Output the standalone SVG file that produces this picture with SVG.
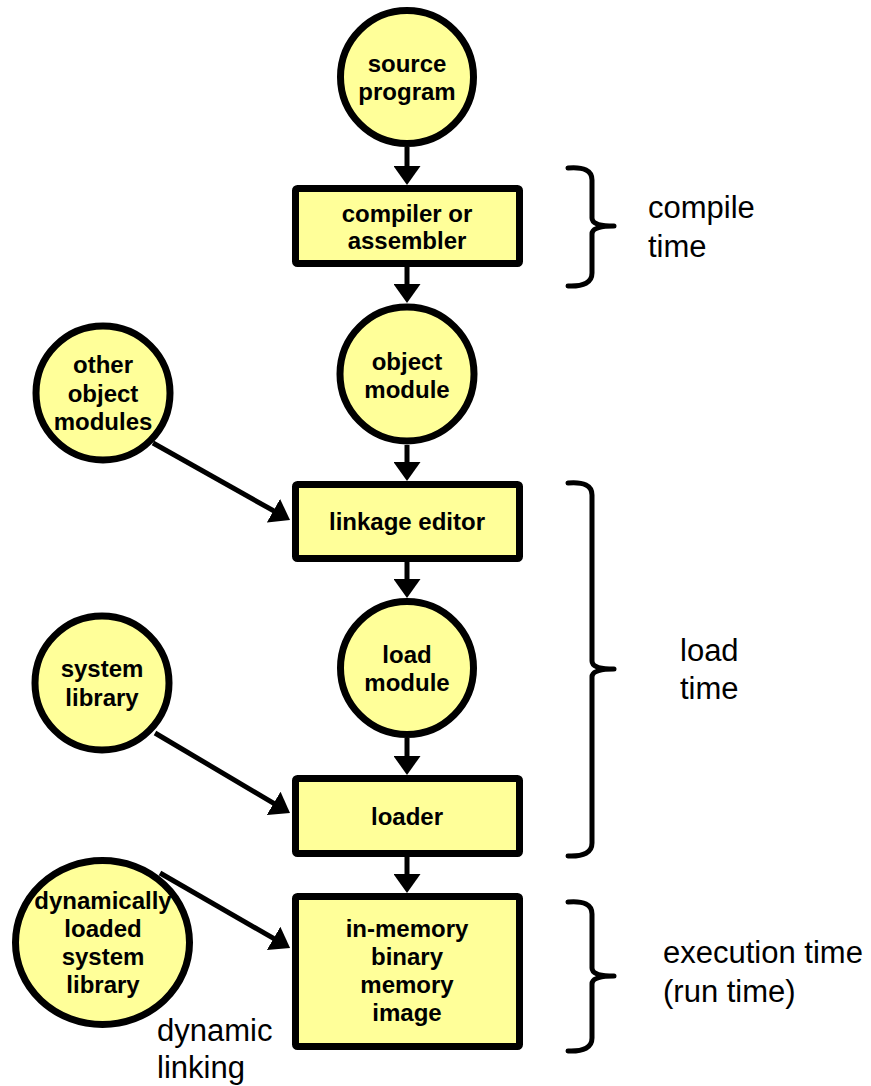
<svg xmlns="http://www.w3.org/2000/svg" width="871" height="1086" viewBox="0 0 871 1086">
<style>
.n{fill:#FFFF99;stroke:#000;stroke-width:7}
.t{font-family:"Liberation Sans",Arial,sans-serif;font-weight:bold;font-size:24px;text-anchor:middle;fill:#000}
.a{font-family:"Liberation Sans",Arial,sans-serif;font-size:31px;fill:#000}
.c{stroke:#000;stroke-width:5;fill:none;marker-end:url(#ah)}
.b{stroke:#000;stroke-width:5;fill:none;stroke-linecap:round;stroke-linejoin:round}
</style>
<defs>
<marker id="ah" viewBox="0 0 19 27" refX="9" refY="13.5" markerWidth="19" markerHeight="27" markerUnits="userSpaceOnUse" orient="auto">
<path d="M0,0 L19,13.5 L0,27 Z" fill="#000"/>
</marker>
</defs>
<g id="connectors">
<line class="c" x1="407" y1="147" x2="407" y2="175"/>
<line class="c" x1="407" y1="267" x2="407" y2="293"/>
<line class="c" x1="407" y1="445" x2="407" y2="471"/>
<line class="c" x1="407" y1="562" x2="407" y2="588"/>
<line class="c" x1="407" y1="738" x2="407" y2="765"/>
<line class="c" x1="407" y1="857" x2="407" y2="883"/>
<line class="c" x1="153" y1="443" x2="281.3" y2="515.1"/>
<line class="c" x1="155" y1="733" x2="281.4" y2="807.9"/>
</g>
<g id="source"><circle class="n" cx="407" cy="77" r="66.5"/><text class="t" x="407" y="72">source</text><text class="t" x="407" y="100">program</text></g>
<g id="compiler"><rect class="n" x="295.5" y="188.5" width="224" height="75" rx="2"/><text class="t" x="407" y="222">compiler or</text><text class="t" x="407" y="249">assembler</text></g>
<g id="object"><circle class="n" cx="407" cy="374" r="67"/><text class="t" x="407" y="370">object</text><text class="t" x="407" y="398">module</text></g>
<g id="other"><circle class="n" cx="103" cy="393" r="67"/><text class="t" x="103" y="373">other</text><text class="t" x="103" y="402">object</text><text class="t" x="103" y="430">modules</text></g>
<g id="linkage"><rect class="n" x="295.5" y="484.5" width="224" height="74" rx="2"/><text class="t" x="407" y="530">linkage editor</text></g>
<g id="load"><circle class="n" cx="407" cy="668" r="66.5"/><text class="t" x="407" y="663">load</text><text class="t" x="407" y="691">module</text></g>
<g id="system"><circle class="n" cx="102" cy="683" r="67"/><text class="t" x="102" y="677">system</text><text class="t" x="102" y="706">library</text></g>
<g id="loader"><rect class="n" x="295.5" y="778.5" width="224" height="75" rx="2"/><text class="t" x="407" y="825">loader</text></g>
<g id="dynamic"><ellipse class="n" cx="102.5" cy="942.5" rx="87" ry="82"/><text class="t" x="103" y="909">dynamically</text><text class="t" x="103" y="937">loaded</text><text class="t" x="103" y="965">system</text><text class="t" x="103" y="993">library</text></g>
<g id="connectors2">
<line class="c" x1="160" y1="873" x2="281.4" y2="942.9"/>
</g>
<g id="memory"><rect class="n" x="295.5" y="896.5" width="224" height="150" rx="2"/><text class="t" x="407" y="937">in-memory</text><text class="t" x="407" y="965">binary</text><text class="t" x="407" y="993">memory</text><text class="t" x="407" y="1021">image</text></g>
<g id="brackets">
<path class="b" d="M568,168 Q592,166 592,180 L592,218 Q592,226 614,226 M614,226 Q592,226 592,234 L592,273 Q592,287 568,286"/>
<path class="b" d="M568,483 Q592,481 592,495 L592,661 Q592,669 614,669 M614,669 Q592,669 592,677 L592,843 Q592,857 568,856"/>
<path class="b" d="M568,902 Q592,900 592,914 L592,968 Q592,976 614,976 M614,976 Q592,976 592,984 L592,1038 Q592,1052 568,1051"/>
</g>
<g id="labels">
<text class="a" x="648" y="218">compile</text><text class="a" x="648" y="257">time</text>
<text class="a" x="680" y="661">load</text><text class="a" x="680" y="699">time</text>
<text class="a" x="663" y="963">execution time</text><text class="a" x="663" y="1002">(run time)</text>
<text class="a" x="157" y="1041">dynamic</text><text class="a" x="157" y="1078">linking</text>
</g>
</svg>
